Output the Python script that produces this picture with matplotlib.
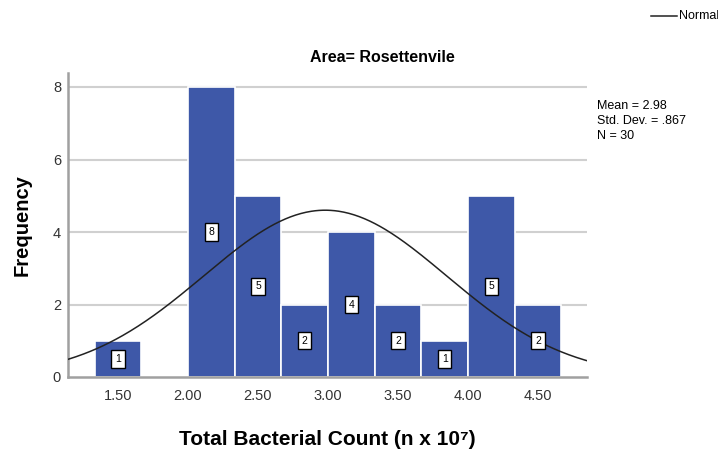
import numpy as np
import matplotlib
matplotlib.use("Agg")
import matplotlib.pyplot as plt

# Data
bin_left = [1.3333, 1.6667, 2.0, 2.3333, 2.6667, 3.0, 3.3333, 3.6667, 4.0, 4.3333]
counts = [1, 0, 8, 5, 2, 4, 2, 1, 5, 2]
bin_width = 1 / 3
mean, sd, n = 2.98, 0.867, 30
xtick_vals = [1.5, 2.0, 2.5, 3.0, 3.5, 4.0, 4.5]
xtick_labels = ["1.50", "2.00", "2.50", "3.00", "3.50", "4.00", "4.50"]
ytick_vals = [0, 2, 4, 6, 8]

plt.rcParams['font.family'] = ['Liberation Sans', 'DejaVu Sans']

fig = plt.figure(figsize=(7.18, 4.5), dpi=100)
ax = fig.add_axes([68/718, 1-377/450, (587-68)/718, (377-72.5)/450])
ax.set_xlim(1.143, 4.85)
ax.set_ylim(0, 8.4)

bar_color = "#3e58a8"
for gy in [2, 4, 6, 8]:
    ax.axhline(gy, color="#d0d0d0", lw=1.5, zorder=0)

ax.bar(bin_left, counts, width=bin_width, align="edge", color=bar_color,
       edgecolor="white", linewidth=1.2, zorder=2)

xs = np.linspace(1.143, 4.85, 400)
ys = n * bin_width / (sd * np.sqrt(2*np.pi)) * np.exp(-0.5*((xs-mean)/sd)**2)
ax.plot(xs, ys, color="#222222", lw=1.1, zorder=4)

for l, c in zip(bin_left, counts):
    if c > 0:
        ax.text(l + bin_width/2, c/2, str(c), ha="center", va="center", fontsize=7.5,
                zorder=5,
                bbox=dict(boxstyle="square,pad=0.35", fc="white", ec="black", lw=1.0))

ax.set_xticks(xtick_vals)
ax.set_xticklabels(xtick_labels, fontsize=10.5, color="#333333")
ax.set_yticks(ytick_vals)
ax.set_yticklabels([str(v) for v in ytick_vals], fontsize=10.5, color="#333333")
ax.tick_params(axis="y", length=0, pad=5)
ax.tick_params(axis="x", length=0, pad=9)
for s in ["top", "right"]:
    ax.spines[s].set_visible(False)
for s in ["left", "bottom"]:
    ax.spines[s].set_color("#a0a0a0")
    ax.spines[s].set_linewidth(1.8)

ax.set_xlabel("Total Bacterial Count (n x 10\u2077)", fontsize=15, fontweight="bold",
              labelpad=19)
ax.set_ylabel("Frequency", fontsize=14.5, fontweight="bold", labelpad=15)

fig.text(382/718, 1-58/450, "Area= Rosettenvile", ha="center", va="center",
         fontsize=11.5, fontweight="bold")

fig.text(597/718, 1-100/450, "Mean = 2.98\nStd. Dev. = .867\nN = 30", ha="left", va="top",
         fontsize=9, linespacing=1.35)

fig.add_artist(plt.Line2D([651/718, 677/718], [1-16/450, 1-16/450], color="#222222", lw=1.1))
fig.text(679/718, 1-16/450, "Normal", ha="left", va="center", fontsize=9)

fig.savefig("out.png", dpi=100)
